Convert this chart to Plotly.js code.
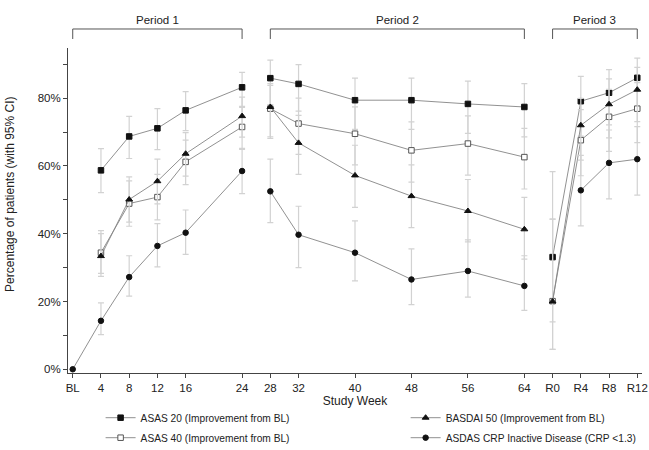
<!DOCTYPE html>
<html><head><meta charset="utf-8">
<script src="https://cdn.plot.ly/plotly-3.0.1.min.js"></script>
<style>html,body{margin:0;padding:0;background:#fff}#chart{width:649px;height:450px}</style>
</head><body><div id="chart"></div>
<script>
// ---- data ----
const weekLabels = ['BL','4','8','12','16','24','28','32','40','48','56','64','R0','R4','R8','R12'];
const weekPos    = [0,4,8,12,16,24,28,32,40,48,56,64,68,72,76,80];
const periodOf   = [1,1,1,1,1,1,2,2,2,2,2,2,3,3,3,3];
const periodNames = ['Period 1','Period 2','Period 3'];

const asas20   = [null,58.7,68.7,71.1,76.4,83.2,85.9,84.2,79.4,79.4,78.3,77.4,33.1,79.1,81.6,86.0];
const asas20Lo = [null,52.1,62.2,64.8,70.4,77.6,78.1,76.2,70.8,70.8,69.6,68.6,14.0,68.8,72.1,77.1];
const asas20Hi = [null,65.1,74.6,76.9,81.9,87.6,91.2,89.9,85.9,85.9,85.0,84.3,58.3,86.4,88.4,91.8];

const asas40   = [null,34.4,48.9,50.8,61.2,71.5,76.9,72.5,69.5,64.6,66.6,62.6,20.1,67.6,74.5,76.9];
const asas40Lo = [null,28.3,42.2,44.1,54.5,65.2,68.1,63.4,60.3,55.2,57.3,53.2,5.9,57.1,64.3,66.9];
const asas40Hi = [null,40.9,55.6,57.5,67.6,77.3,83.8,80.0,77.4,73.0,74.8,71.1,44.3,76.6,82.6,84.6];

const basdai50   = [null,33.4,50.1,55.5,63.6,74.7,77.4,66.8,57.2,51.1,46.7,41.3,20.0,72.0,78.2,82.5];
const basdai50Lo = [null,27.4,43.4,48.8,57.0,68.5,68.6,57.5,47.8,41.8,37.6,32.5,5.9,61.7,68.3,73.1];
const basdai50Hi = [null,40.0,56.8,62.0,69.8,80.3,84.3,74.9,66.1,60.3,56.0,50.7,44.3,79.9,85.7,89.1];

const asdas   = [0,14.3,27.2,36.4,40.3,58.5,52.5,39.7,34.4,26.5,29.0,24.6,null,52.8,60.9,62.0];
const asdasLo = [0,10.2,21.6,30.2,33.9,51.8,43.3,30.0,26.1,19.1,21.3,17.4,null,42.3,50.3,51.4];
const asdasHi = [0,19.6,33.5,43.0,47.0,64.9,62.0,48.1,43.8,35.5,38.2,33.5,null,63.1,70.6,71.6];

const yTickVals = [0,10,20,30,40,50,60,70,80,90];
const yTickText = ['0%','','20%','','40%','','60%','','80%',''];
const yTitle = 'Percentage of patients (with 95% CI)';
const xTitle = 'Study Week';

// ---- styling ----
const FONT = '"Liberation Sans", Arial, Helvetica, sans-serif';
const series = [
  {name:'ASAS 20 (Improvement from BL)', y:asas20, lo:asas20Lo, hi:asas20Hi, symbol:'square', size:5.5, fill:'#111', mline:'#111', legend:'legend'},
  {name:'ASAS 40 (Improvement from BL)', y:asas40, lo:asas40Lo, hi:asas40Hi, symbol:'square', size:5.5, fill:'#fff', mline:'#555', legend:'legend'},
  {name:'BASDAI 50 (Improvement from BL)', y:basdai50, lo:basdai50Lo, hi:basdai50Hi, symbol:'triangle-up', size:6, fill:'#111', mline:'#111', legend:'legend2'},
  {name:'ASDAS CRP Inactive Disease (CRP <1.3)', y:asdas, lo:asdasLo, hi:asdasHi, symbol:'circle', size:5.5, fill:'#111', mline:'#111', legend:'legend2'}
];

const traces = [];
[1,2,3].forEach(function(p){
  series.forEach(function(s, si){
    const xs=[], ys=[], up=[], dn=[];
    for(let i=0;i<weekPos.length;i++){
      if(periodOf[i]!==p || s.y[i]===null) continue;
      xs.push(weekPos[i]); ys.push(s.y[i]);
      up.push(s.hi[i]-s.y[i]); dn.push(s.y[i]-s.lo[i]);
    }
    traces.push({
      type:'scatter', mode:'lines+markers', x:xs, y:ys,
      name:s.name, showlegend:p===1, legend:s.legend, legendgroup:'g'+si,
      line:{color:'#858585', width:0.9},
      marker:{symbol:s.symbol, size:s.size, color:s.fill, line:{color:s.mline, width:1}},
      error_y:{type:'data', symmetric:false, array:up, arrayminus:dn, color:'#d2d2d2', thickness:1.2, width:3},
      hoverinfo:'skip'
    });
  });
});

// period brackets + labels
const shapes=[], annotations=[];
[1,2,3].forEach(function(p){
  const xs = weekPos.filter(function(_,i){return periodOf[i]===p;});
  const x0 = Math.min.apply(null,xs), x1 = Math.max.apply(null,xs);
  shapes.push({type:'path', xref:'x', yref:'paper',
    path:'M '+x0+',1.0277 L '+x0+',1.0585 L '+x1+',1.0585 L '+x1+',1.0277',
    line:{color:'#555', width:1}});
  annotations.push({xref:'x', yref:'paper', x:(x0+x1)/2, y:1.086, text:periodNames[p-1],
    showarrow:false, yanchor:'middle', font:{family:FONT, size:11.5, color:'#222'}});
});
// y-axis title (rotated)
annotations.push({xref:'paper', yref:'paper', x:-0.101, y:0.548, text:yTitle, textangle:-90,
  showarrow:false, xanchor:'center', yanchor:'middle', font:{family:FONT, size:12, color:'#222'}});

const legendBase = {orientation:'v', xref:'container', yref:'container', y:0.104, xanchor:'left', yanchor:'top',
  font:{family:FONT, size:10.2, color:'#222'}, traceorder:'grouped', tracegroupgap:1, itemwidth:30, bgcolor:'rgba(0,0,0,0)'};

const layout = {
  width:649, height:450,
  margin:{l:68, r:7, t:48, b:77, autoexpand:false},
  paper_bgcolor:'#fff', plot_bgcolor:'#fff',
  font:{family:FONT, size:12, color:'#222'},
  showlegend:true,
  legend:Object.assign({}, legendBase, {x:0.155}),
  legend2:Object.assign({}, legendBase, {x:0.625}),
  xaxis:{range:[-0.67,80.67], tickvals:weekPos, ticktext:weekLabels, ticks:'outside', ticklen:4, tickcolor:'#444',
    tickangle:0, showline:true, linecolor:'#444', linewidth:1, showgrid:false, zeroline:false,
    tickfont:{family:FONT, size:11.5, color:'#222'},
    title:{text:xTitle, font:{family:FONT, size:12, color:'#222'}, standoff:1}, automargin:false},
  yaxis:{range:[-1.1,94.8], tickvals:yTickVals, ticktext:yTickText, ticks:'outside', ticklen:4, tickcolor:'#444',
    showline:true, linecolor:'#444', linewidth:1, showgrid:false, zeroline:false,
    tickfont:{family:FONT, size:11.5, color:'#222'}, automargin:false},
  shapes:shapes, annotations:annotations
};

Plotly.newPlot('chart', traces, layout, {displayModeBar:false, staticPlot:true});
</script>
</body></html>
